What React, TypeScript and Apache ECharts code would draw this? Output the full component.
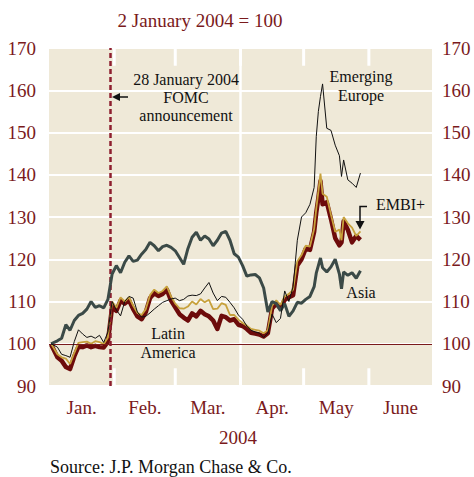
import React, { useEffect, useRef } from "react";
import * as echarts from "echarts";

// Days counted from 1 January 2004 (= 0)
const days = [
  1, 4, 6, 8, 10, 12, 14, 16, 18, 20, 22, 24, 26, 28, 30,
  32, 34, 36, 38, 40, 42, 44, 46, 48, 50, 52, 54, 56, 58, 60,
  62, 64, 66, 68, 70, 72, 74, 76, 78, 80, 82, 84, 86, 88, 90,
  92, 94, 96, 98, 100, 102, 104, 106, 108, 110, 112, 114, 116, 118, 120,
  122, 124, 126, 127, 128, 129, 130, 132, 134, 136, 138, 139, 140, 142, 144, 146, 148,
];

const asia = [
  100, 100.7, 101.3, 104.5, 103.2, 105.5, 106.7, 107.2, 108.2, 110, 108.6, 109, 108.5, 110.5, 116.5,
  118.5, 116.8, 119.3, 120.8, 119.5, 119.8, 121.2, 122.3, 124, 123.2, 122, 123, 123.3, 122.8, 122,
  120.4, 118.8, 122.5, 125.2, 126.4, 124.5, 125.5, 124.8, 123.2, 124.5, 126.2, 126.6, 124.5, 121.3, 120.5,
  118.5, 116, 116.3, 116.4, 115.6, 113.2, 107.5, 110, 109.5, 107.8, 109.5, 106.5, 107.8, 109.8, 109.6,
  110.5, 111.2, 113.5, 116.7, 118.5, 120.3, 118, 117, 118.2, 120, 116.5, 113, 117, 116.2, 116.8, 115.5, 117.3,
];

const emergingEurope = [
  100, 99.2, 97.5, 97.2, 96.8, 100.5, 103.3, 102.3, 101.5, 101.8, 101.3, 102, 100.3, 102.8, 110,
  108, 106.6, 110, 111.2, 110.8, 107.5, 106.3, 106.5, 107.3, 108.2, 109, 109.8, 110.2, 110.6, 110.8,
  110.2, 110.5, 111.3, 111.5, 111.4, 111.8, 113.2, 114.5, 112, 110.2, 111.2, 111, 109.8, 108.5, 106.8,
  105.8, 104.2, 103.2, 102.8, 102.5, 101.5, 102.5, 107, 105, 106, 112.5, 110, 113.5, 124.5, 130,
  131, 133, 137, 149, 155, 158.5, 161.5, 151, 150.5, 147, 144.5, 139.6, 143.5, 138.8, 138, 137, 140.4,
];

const latinAmerica = [
  99.8, 96.8, 96, 94.5, 94, 97, 99.3, 99.2, 99.6, 99.2, 99.5, 99.2, 99.1, 100.5, 108.8,
  107.8, 110.2, 109.5, 110.3, 108.2, 106.5, 105.8, 107.5, 110.8, 112, 111.3, 111.8, 112.8, 110.2, 108.6,
  107, 106.2, 105.5, 107.2, 106.5, 107.8, 107, 106.5, 105.5, 103.5, 106.6, 106.3, 105.5, 105.8, 104.5,
  104.2, 103.5, 102.6, 102.4, 102.2, 101.7, 102.5, 108.3, 109.5, 108.3, 110.4, 111, 111.5, 118.5, 120,
  122.5, 122.2, 126.5, 131, 134.5, 138.5, 133, 133.5, 129.5, 125, 123.3, 124, 129, 127, 124, 125.5, 124.6,
];

const embiPlus = [
  100, 97.5, 96.8, 96.5, 95.2, 97.8, 100.2, 100.4, 100.5, 100, 100.6, 100.4, 99.9, 101.5, 110,
  108.5, 111, 110, 111, 109, 107.3, 106.8, 108.2, 111.5, 112.8, 112, 112.5, 113.6, 111.2, 109.5,
  108.4, 108.3, 108.8, 110, 109.3, 110.6, 109.8, 110.4, 108.2, 108.3, 109.6, 109.2, 106.8, 106.8, 105.7,
  104.9, 104.3, 103.5, 103.3, 103.1, 102.5, 103.2, 109, 110.3, 109.2, 111.2, 111.8, 112.8, 119.5, 121,
  123.2, 123, 127.2, 132, 136, 140.3, 135.5, 134.8, 130.5, 126.5, 127, 124.5, 130, 128.5, 127.5, 125.5, 126.6,
];

const monthNames = ["Jan.", "Feb.", "Mar.", "Apr.", "May", "June"];
const monthMidDays = [15.5, 45.5, 75.5, 106, 136.5, 167];
const monthStartDays = [31, 60, 91, 121, 152];
const quarterStartDay = 91;
const fomcDay = 29;
const baseValue = 100;
const xMin = 0;
const xMax = 182;
const yMin = 90;
const yMax = 170;
const yStep = 10;
const tickLen = 4.2; // in y-axis units

const RED = "#7a1a1c";
const FONT = "'Liberation Serif', 'Times New Roman', serif";
const BG = "#efe9d8";

function txt(text: string, x: number, y: number, size: number, fill: string, align = "center") {
  return {
    type: "text",
    x,
    y,
    silent: true,
    z: 100,
    style: {
      text,
      fill,
      font: `${size}px ${FONT}`,
      textAlign: align,
      textVerticalAlign: "middle",
      align,
      verticalAlign: "middle",
    },
  };
}

export default function App() {
  const ref = useRef<HTMLDivElement>(null);

  useEffect(() => {
    if (!ref.current) return;
    const chart = echarts.init(ref.current, undefined, { renderer: "svg" });
    const pairs = (vals: number[]) => days.map((d, i) => [d, vals[i]]);
    const yLabel = { color: RED, fontFamily: FONT, fontSize: 19 };

    chart.setOption({
      animation: false,
      backgroundColor: "#ffffff",
      grid: {
        left: 49,
        right: 42,
        top: 48,
        bottom: 91,
        show: true,
        backgroundColor: BG,
        borderWidth: 0,
      },
      xAxis: {
        type: "value",
        min: xMin,
        max: xMax,
        position: "bottom",
        axisLine: { show: false },
        splitLine: { show: false },
        axisTick: { show: false },
        axisLabel: {
          customValues: monthMidDays,
          formatter: (v: number) => {
            const i = monthMidDays.findIndex((m) => Math.abs(m - v) < 0.01);
            return i >= 0 ? monthNames[i] : "";
          },
          color: RED,
          fontFamily: FONT,
          fontSize: 19,
          margin: 12,
        },
      },
      yAxis: [
        {
          type: "value",
          min: yMin,
          max: yMax,
          interval: yStep,
          position: "left",
          axisLine: { show: false },
          axisTick: { show: false },
          axisLabel: { ...yLabel, margin: 13 },
          splitLine: { lineStyle: { color: "#ffffff", width: 2 } },
        },
        {
          type: "value",
          min: yMin,
          max: yMax,
          interval: yStep,
          position: "right",
          axisLine: { show: false },
          axisTick: { show: false },
          axisLabel: { ...yLabel, margin: 10 },
          splitLine: { show: false },
        },
      ],
      series: [
        {
          name: "guides",
          type: "line",
          data: [],
          z: 2,
          markLine: {
            silent: true,
            symbol: ["none", "none"],
            label: { show: false },
            data: [
              { yAxis: baseValue, lineStyle: { color: RED, width: 1.2, type: "solid" } },
              { xAxis: fomcDay, lineStyle: { color: "#8e1f2f", width: 2.5, type: [5, 3] } },
            ],
          },
        },
        {
          name: "Latin America",
          type: "line",
          data: pairs(latinAmerica),
          symbol: "none",
          z: 3,
          lineStyle: { color: "#6d0b0b", width: 4.5, join: "round" },
        },
        {
          name: "EMBI+",
          type: "line",
          data: pairs(embiPlus),
          symbol: "none",
          z: 4,
          lineStyle: { color: "#c7a13c", width: 1.8 },
        },
        {
          name: "Asia",
          type: "line",
          data: pairs(asia),
          symbol: "none",
          z: 5,
          lineStyle: { color: "#3b4a47", width: 3 },
        },
        {
          name: "Emerging Europe",
          type: "line",
          data: pairs(emergingEurope),
          symbol: "none",
          z: 6,
          lineStyle: { color: "#111111", width: 1 },
        },
      ],
    });

    // White month ticks and the quarter line, positioned through the chart's own scales
    const px = (d: number, v: number) =>
      chart.convertToPixel({ xAxisIndex: 0, yAxisIndex: 0 }, [d, v]) as number[];
    const vline = (d: number, v1: number, v2: number, w: number) => {
      const a = px(d, v1);
      const b = px(d, v2);
      return {
        type: "line",
        z: 1,
        silent: true,
        shape: { x1: a[0], y1: a[1], x2: b[0], y2: b[1] },
        style: { stroke: "#ffffff", lineWidth: w },
      };
    };
    const guideLines: any[] = [];
    monthStartDays.forEach((d) => {
      guideLines.push(vline(d, yMax, yMax - tickLen, 3));
      guideLines.push(vline(d, yMin, yMin + tickLen, 3));
    });
    guideLines.push(vline(quarterStartDay, yMin, yMax, 2.5));

    chart.setOption({
      graphic: [
        ...guideLines,
        txt("2 January 2004 = 100", 200, 20, 19, RED),
        txt("28 January 2004", 186, 79, 16, "#111"),
        txt("FOMC", 186, 97, 16, "#111"),
        txt("announcement", 186, 115, 16, "#111"),
        txt("Emerging", 361, 76, 16, "#111"),
        txt("Europe", 361, 95, 16, "#111"),
        txt("EMBI+", 376, 204, 16, "#111", "left"),
        txt("Asia", 361, 292, 16, "#111"),
        txt("Latin", 168, 333, 16, "#111"),
        txt("America", 168, 352, 16, "#111"),
        txt("2004", 238, 437, 19, RED),
        txt("Source: J.P. Morgan Chase & Co.", 50, 467, 18, "#111", "left"),
        {
          type: "line",
          z: 100,
          silent: true,
          shape: { x1: 119, y1: 97, x2: 128, y2: 97 },
          style: { stroke: "#111", lineWidth: 1.5 },
        },
        {
          type: "polygon",
          z: 100,
          silent: true,
          shape: { points: [[112, 97], [120, 93], [120, 101]] },
          style: { fill: "#111" },
        },
        {
          type: "polyline",
          z: 100,
          silent: true,
          shape: { points: [[367, 206.5], [360, 206.5], [360, 222]] },
          style: { stroke: "#111", lineWidth: 1.5, fill: null },
        },
        {
          type: "polygon",
          z: 100,
          silent: true,
          shape: { points: [[355.5, 221], [364.5, 221], [360, 229.5]] },
          style: { fill: "#111" },
        },
      ],
    });
    return () => chart.dispose();
  }, []);

  return <div ref={ref} style={{ width: 474, height: 477, position: "absolute", left: 0, top: 0 }} />;
}
